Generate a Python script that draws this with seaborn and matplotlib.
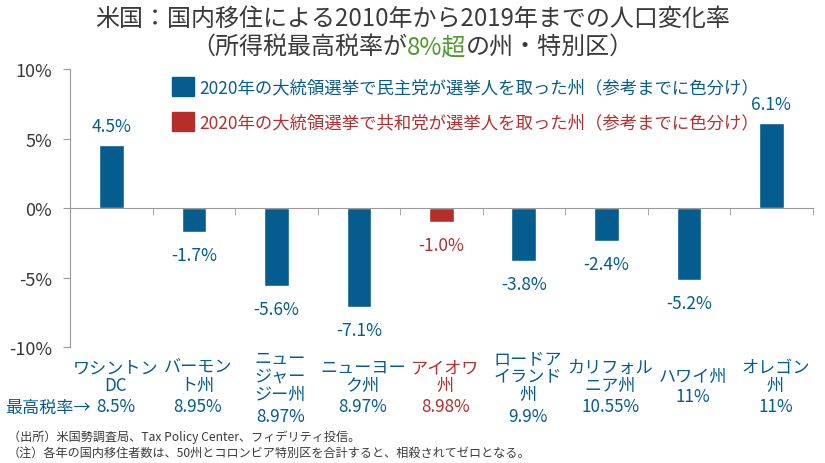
import pandas as pd
import matplotlib.pyplot as plt
import matplotlib.transforms as mtransforms
from matplotlib.patches import Patch
import seaborn as sns

sns.set_style("ticks")
plt.rcParams['font.family'] = ['Noto Sans CJK JP', 'DejaVu Sans']

# --- data ---
states = ["ワシントン\nDC", "バーモン\nト州", "ニュー\nジャー\nジー州", "ニューヨー\nク州",
          "アイオワ\n州", "ロードア\nイランド\n州", "カリフォル\nニア州", "ハワイ州", "オレゴン\n州"]
top_tax = ["8.5%", "8.95%", "8.97%", "8.97%", "8.98%", "9.9%", "10.55%", "11%", "11%"]
pop_change = [4.5, -1.7, -5.6, -7.1, -1.0, -3.8, -2.4, -5.2, 6.1]
party = ["民主党", "民主党", "民主党", "民主党", "共和党", "民主党", "民主党", "民主党", "民主党"]
yticks = [10, 5, 0, -5, -10]

BLUE = "#045D8E"
RED = "#B52E2C"
GREEN = "#4E9A2C"
DARK = "#3A3A3A"
colors = {"民主党": BLUE, "共和党": RED}

df = pd.DataFrame({"pos": range(len(states)), "value": pop_change, "party": party})

fig = plt.figure(figsize=(8.25, 4.64), dpi=100)
ax = fig.add_axes([0.085, 0.25, 0.9, 0.599])

sns.barplot(data=df, x="pos", y="value", hue="party", palette=colors, saturation=1,
            dodge=False, width=0.3, legend=False, ax=ax)

ax.set_ylim(-10, 10)
ax.set_xlim(-0.5, len(states) - 0.5)
ax.set_yticks(yticks)
ax.set_yticklabels([f"{t}%" for t in yticks], fontsize=13, color=DARK)
ax.set_xlabel("")
ax.set_ylabel("")

# zero line as the x axis, with ticks between categories
for s in ["top", "right"]:
    ax.spines[s].set_visible(False)
ax.spines["bottom"].set_position(("data", 0))
ax.spines["bottom"].set_color("#9A9A9A")
ax.spines["left"].set_color("#9A9A9A")
ax.set_xticks([i - 0.5 for i in range(len(states) + 1)], minor=True)
ax.set_xticks([])
ax.tick_params(axis="x", which="minor", length=5, color="#9A9A9A", direction="out")
ax.tick_params(axis="y", length=5, color="#9A9A9A", pad=8)

# value labels above/below bars
for i, v in enumerate(pop_change):
    c = colors[party[i]]
    off = 19 if v > 0 else -23
    ax.annotate(f"{v:.1f}%", (i, v), xytext=(0, off), textcoords="offset pixels",
                ha="center", va="center", fontsize=12.5, color=c)

# category labels under the plot: name block, then top tax rate on the line below
trans = mtransforms.blended_transform_factory(ax.transData, fig.transFigure)
trans = trans + mtransforms.ScaledTranslation(4 / 100, 0, fig.dpi_scale_trans)
pitch = 20
for i, (name, tax) in enumerate(zip(states, top_tax)):
    n_lines = name.count("\n") + 1
    ax.text(i, 1 - 377 / 464, name, transform=trans, ha="center", va="center",
            multialignment="center", fontsize=12.3, color=colors[party[i]], linespacing=0.98)
    ty = 387 + n_lines * pitch / 2
    ax.text(i, 1 - ty / 464, tax, transform=trans, ha="center", va="center",
            fontsize=12.3, color=colors[party[i]])
fig.text(5 / 825, 1 - 408 / 464, "最高税率→", fontsize=12.3, color=BLUE, ha="left", va="center")

# legend
handles = [Patch(color=BLUE), Patch(color=RED)]
labels = ["2020年の大統領選挙で民主党が選挙人を取った州（参考までに色分け）",
          "2020年の大統領選挙で共和党が選挙人を取った州（参考までに色分け）"]
leg = ax.legend(handles, labels, loc="upper left", bbox_to_anchor=(172 / 825, 1 - 78 / 464),
                bbox_transform=fig.transFigure, frameon=False, fontsize=12.5,
                handlelength=1.25, handleheight=1.3, handletextpad=0.3, labelspacing=0.9,
                borderpad=0, borderaxespad=0)
for txt, c in zip(leg.get_texts(), [BLUE, RED]):
    txt.set_color(c)

# title, second line with a green part
fig.text(0.5, 1 - 19 / 464, "米国：国内移住による2010年から2019年までの人口変化率",
         ha="center", va="center", fontsize=17.3, color=DARK)
parts = [("（所得税最高税率が", DARK), ("8%超", GREEN), ("の州・特別区）", DARK)]
renderer = fig.canvas.get_renderer()
pieces = []
for s, c in parts:
    t = fig.text(0, 1 - 47 / 464, s, ha="left", va="center", fontsize=17.3, color=c)
    pieces.append(t)
widths = [p.get_window_extent(renderer).width for p in pieces]
x = (fig.bbox.width - sum(widths)) / 2
for p, w in zip(pieces, widths):
    p.set_x(x / fig.bbox.width)
    x += w

# footnotes
fig.text(8 / 825, 1 - 437 / 464, "（出所）米国勢調査局、Tax Policy Center、フィデリティ投信。",
         fontsize=8.7, color=DARK, va="center")
fig.text(8 / 825, 1 - 453 / 464, "（注）各年の国内移住者数は、50州とコロンビア特別区を合計すると、相殺されてゼロとなる。",
         fontsize=8.7, color=DARK, va="center")

fig.savefig("out.png", dpi=100)
